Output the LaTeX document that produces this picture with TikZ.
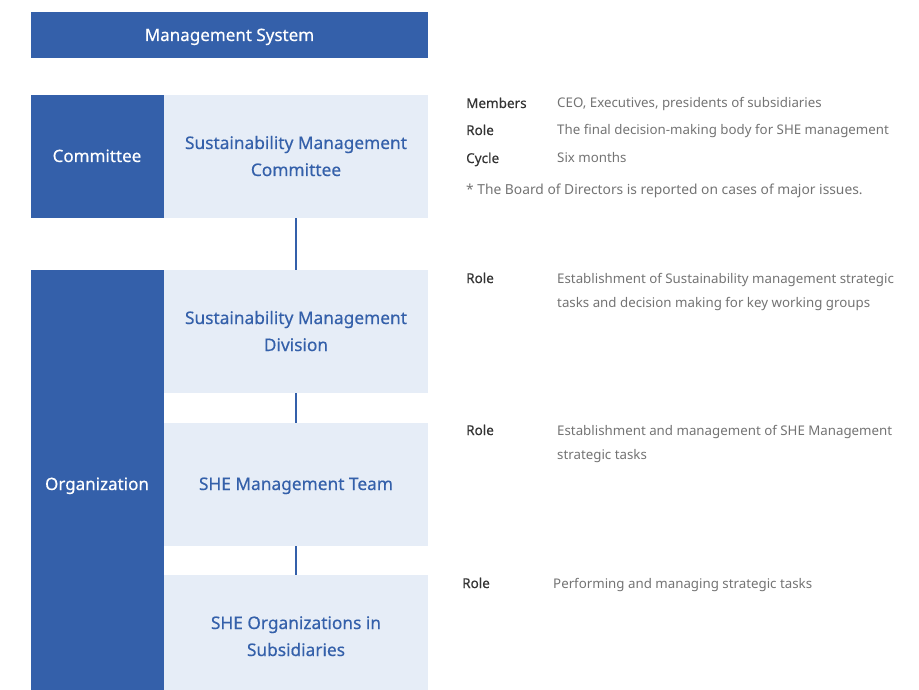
\documentclass[tikz,border=0pt]{standalone}
\usepackage{fontspec}
\setmainfont{Noto Sans}
\newfontfamily\medfont[FakeBold=0.4]{Noto Sans}
\newfontfamily\labfont[FakeBold=0.25]{Noto Sans}
\definecolor{dblue}{HTML}{3460AA}
\definecolor{lblue}{HTML}{E6EDF7}
\definecolor{lbl}{HTML}{333333}
\definecolor{desc}{HTML}{737373}
\begin{document}
\begin{tikzpicture}[x=1pt,y=-1pt,
  darkbox/.style={fill=dblue,draw=none,inner sep=0pt},
  lightbox/.style={fill=lblue,draw=none,inner sep=0pt},
  wtxt/.style={anchor=base,inner sep=0pt,text=white,font=\medfont\fontsize{17}{20}\selectfont},
  btxt/.style={anchor=base,inner sep=0pt,text=dblue,font=\medfont\fontsize{17.3}{20}\selectfont},
  lab/.style={anchor=base west,inner sep=0pt,text=lbl,font=\labfont\fontsize{13.5}{16}\selectfont},
  dsc/.style={anchor=base west,inner sep=0pt,text=desc,font=\fontsize{13.3}{16}\selectfont},
  conn/.style={draw=dblue,line width=2.6pt}]
\useasboundingbox (0,0) rectangle (919,690);
% boxes
\node[darkbox,minimum width=397pt,minimum height=46pt] (ms) at (229.5,35) {};
\node[darkbox,minimum width=133pt,minimum height=123pt] (com) at (97,156.5) {};
\node[lightbox,minimum width=264pt,minimum height=123pt] (smc) at (296,156.5) {};
\node[darkbox,minimum width=133pt,minimum height=420pt] (org) at (97,480) {};
\node[lightbox,minimum width=264pt,minimum height=123pt] (smd) at (296,331.5) {};
\node[lightbox,minimum width=264pt,minimum height=123pt] (she) at (296,484.5) {};
\node[lightbox,minimum width=264pt,minimum height=115pt] (sub) at (296,632.5) {};
% box texts
\node[wtxt] (tms) at (229.5,41) {Management System};
\node[wtxt] (tcom) at (97,162) {Committee};
\node[wtxt] (torg) at (97,490) {Organization};
\node[btxt] (tsmc1) at (296,149) {Sustainability Management};
\node[btxt] (tsmc2) at (296,176) {Committee};
\node[btxt] (tsmd1) at (296,324) {Sustainability Management};
\node[btxt] (tsmd2) at (296,351) {Division};
\node[btxt] (tshe) at (296,490) {SHE Management Team};
\node[btxt] (tsub1) at (296,629) {SHE Organizations in};
\node[btxt] (tsub2) at (296,656) {Subsidiaries};
% connectors
\draw[conn] (smc.south) -- (smd.north);
\draw[conn] (smd.south) -- (she.north);
\draw[conn] (she.south) -- (sub.north);
% descriptions
\node[lab] (l1) at (466,108) {Members};
\node[dsc] (d1) at (557,108) {CEO, Executives, presidents of subsidiaries};
\node[lab] (l2) at (466,135) {Role};
\node[dsc] (d2) at (557,135) {The final decision-making body for SHE management};
\node[lab] (l3) at (466,163) {Cycle};
\node[dsc] (d3) at (557,163) {Six months};
\node[dsc,font=\fontsize{13.8}{16}\selectfont] (n1) at (466,194) {* The Board of Directors is reported on cases of major issues.};
\node[lab] (l4) at (466,283) {Role};
\node[dsc] (d4a) at (557,283) {Establishment of Sustainability management strategic};
\node[dsc] (d4b) at (557,307) {tasks and decision making for key working groups};
\node[lab] (l5) at (466,435) {Role};
\node[dsc] (d5a) at (557,435) {Establishment and management of SHE Management};
\node[dsc] (d5b) at (557,459) {strategic tasks};
\node[lab] (l6) at (462,588) {Role};
\node[dsc] (d6) at (553,588) {Performing and managing strategic tasks};
\end{tikzpicture}
\end{document}
